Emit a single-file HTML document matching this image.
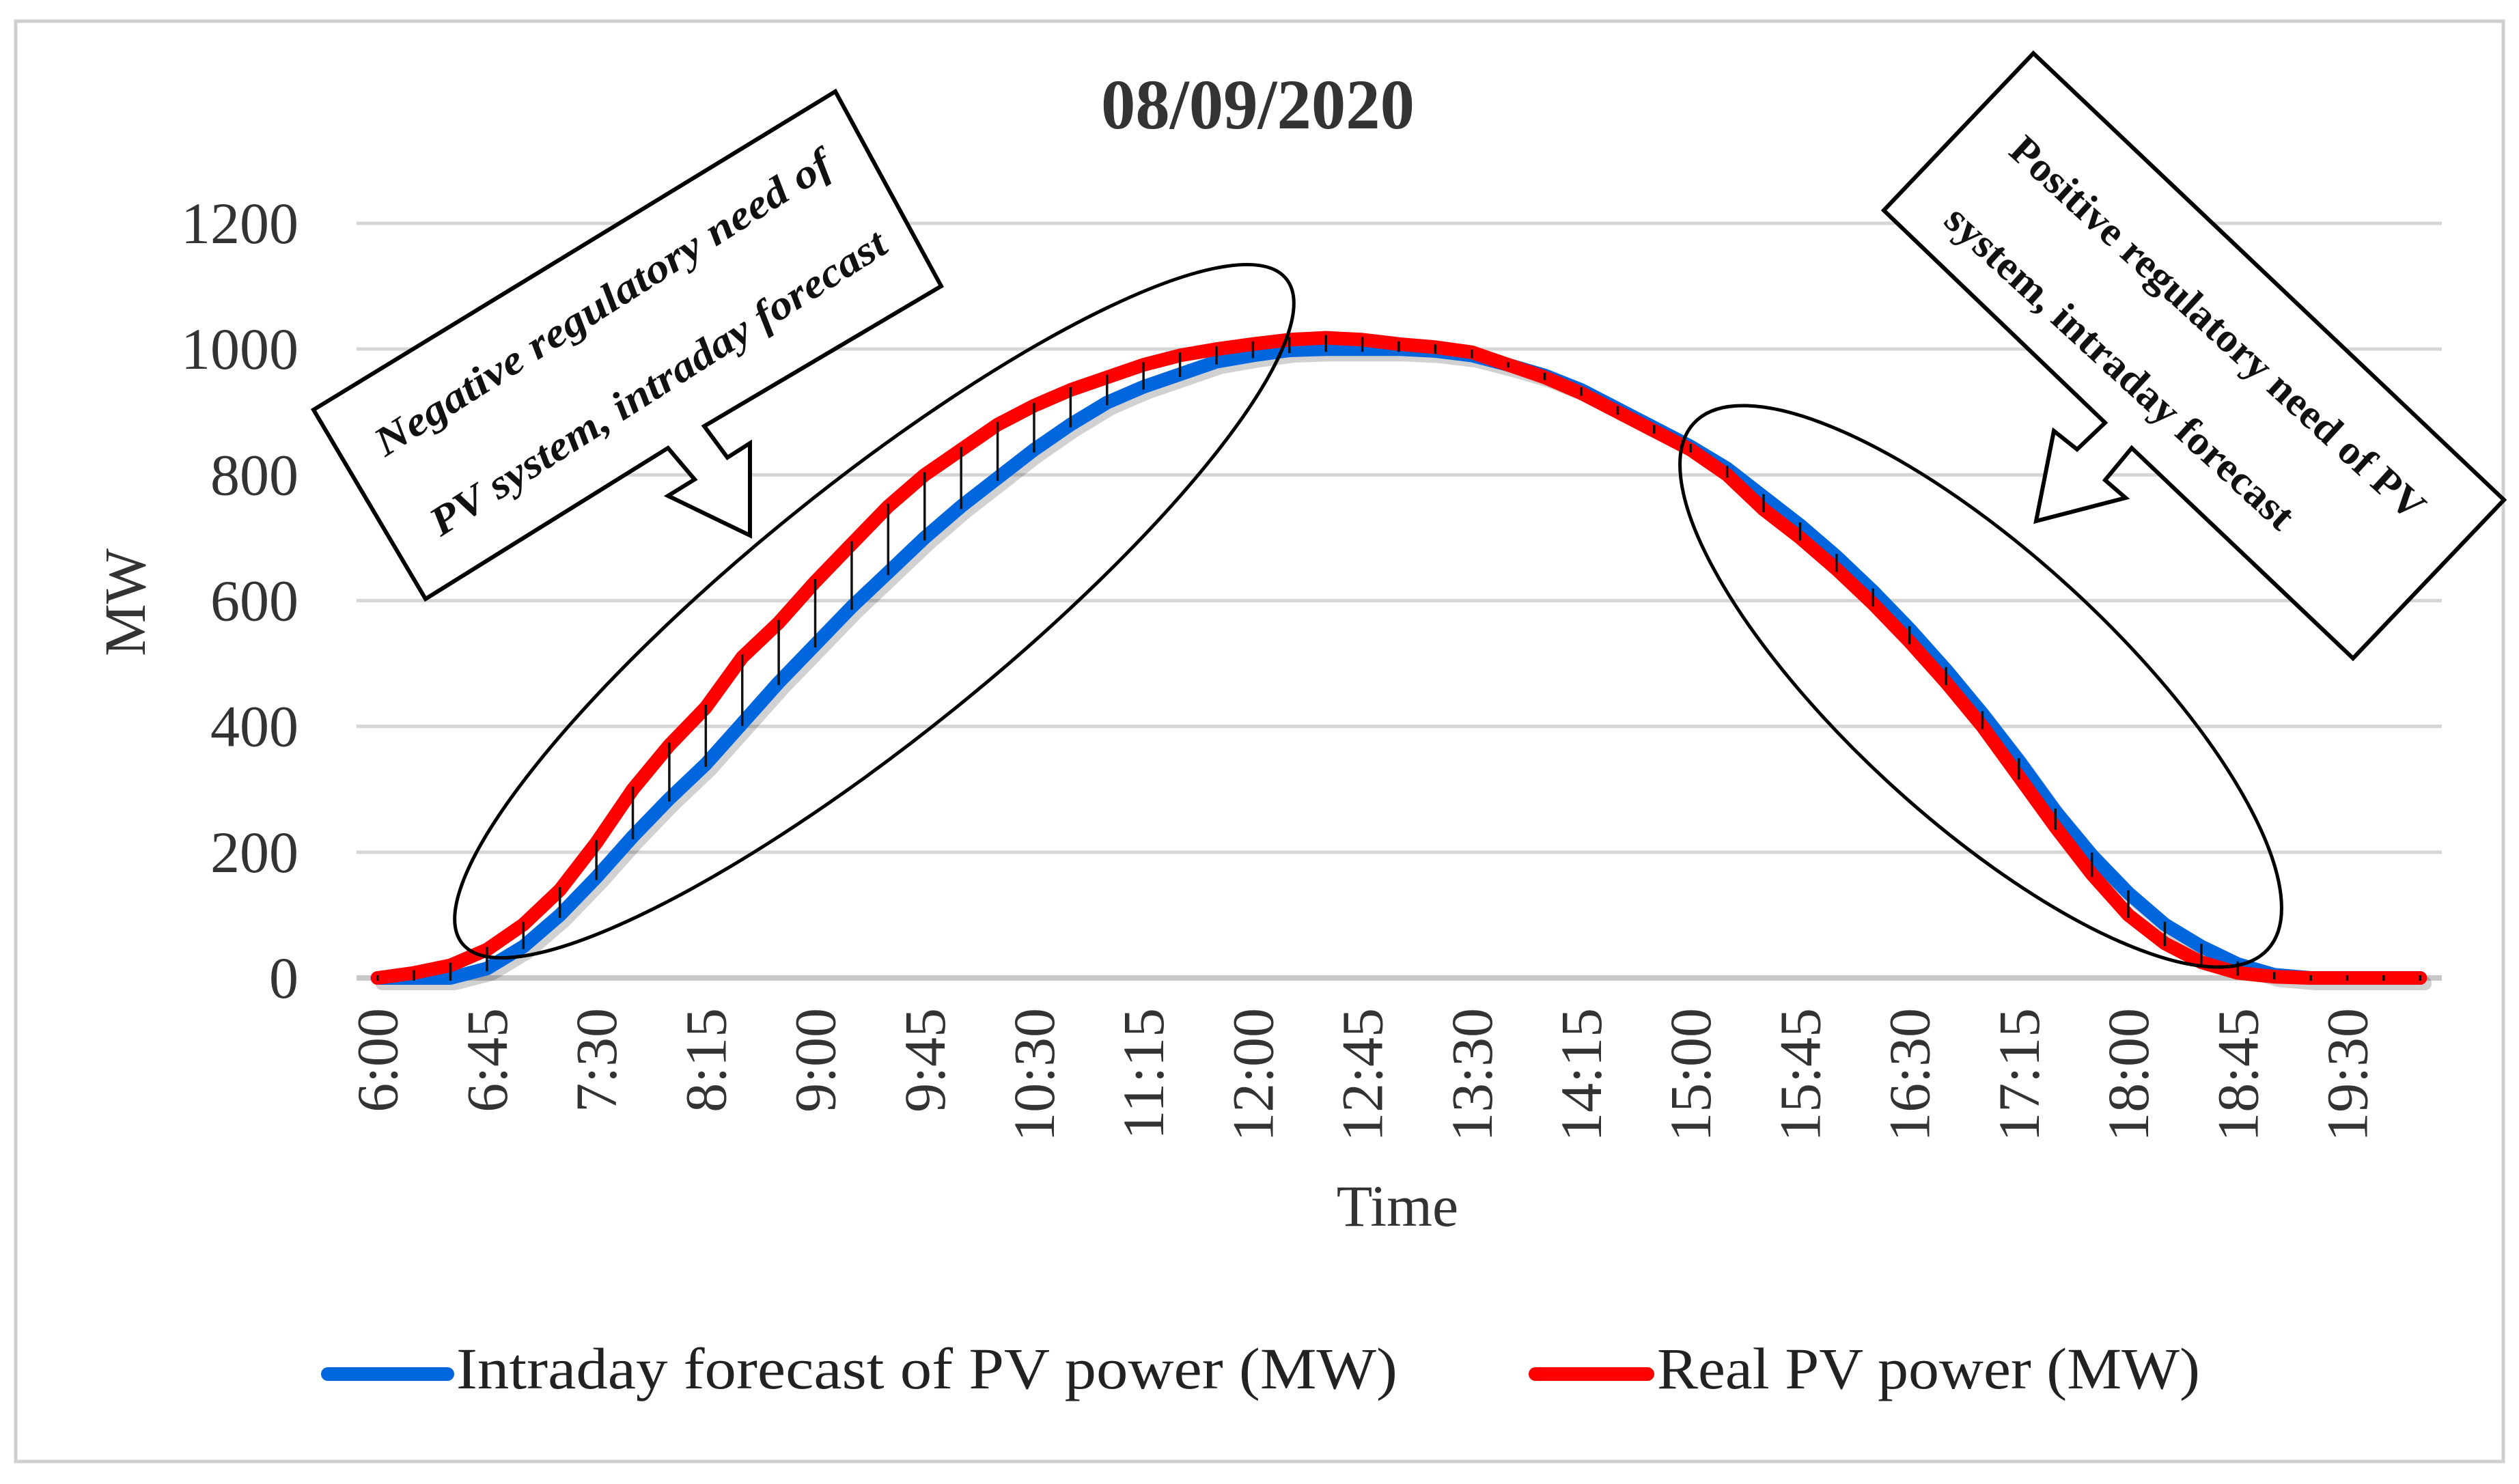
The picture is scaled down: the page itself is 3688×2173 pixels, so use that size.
<!DOCTYPE html>
<html><head><meta charset="utf-8"><style>
html,body{margin:0;padding:0;background:#fff}
svg{display:block;font-family:"Liberation Serif",serif}
</style></head><body>
<svg id="chart" width="3688" height="2173" viewBox="0 0 3688 2173" xmlns="http://www.w3.org/2000/svg">
<rect x="23" y="31" width="3642" height="2109" fill="#fff" stroke="#d0d0d0" stroke-width="5"/>
<text x="1612" y="188" font-size="104" font-weight="bold" fill="#333" textLength="459" lengthAdjust="spacingAndGlyphs">08/09/2020</text>
<g id="grid"></g>
<g id="yticks"></g>
<g id="xticks"></g>
<g id="series"></g>
<text transform="translate(212,882) rotate(-90)" text-anchor="middle" font-size="86" fill="#333">MW</text>
<text x="2046" y="1795" text-anchor="middle" font-size="86" fill="#333">Time</text>
<g>
<line x1="480" y1="2012" x2="655" y2="2012" stroke="#0066dd" stroke-width="20" stroke-linecap="round"/>
<text x="668" y="2033" font-size="86" fill="#222" textLength="1378" lengthAdjust="spacingAndGlyphs">Intraday forecast of PV power  (MW)</text>
<line x1="2248" y1="2012" x2="2412" y2="2012" stroke="#ff0000" stroke-width="20" stroke-linecap="round"/>
<text x="2426" y="2033" font-size="86" fill="#222" textLength="795" lengthAdjust="spacingAndGlyphs">Real PV power (MW)</text>
</g>
<g>
<ellipse cx="1280" cy="895" rx="775" ry="185" transform="rotate(-38.9 1280 895)" fill="none" stroke="#000" stroke-width="5"/>
<polygon points="459,600 1223,134 1378,419 1031,624 1065,670 1098,649 1098,784 978,726 1017,702 978,656 623,877" fill="#fff" stroke="#000" stroke-width="6"/>
<text transform="translate(893,460) rotate(-32.5)" text-anchor="middle" font-size="60" font-weight="bold" font-style="italic" fill="#111" textLength="780" lengthAdjust="spacingAndGlyphs">Negative regulatory need of</text>
<text transform="translate(974,577) rotate(-32.5)" text-anchor="middle" font-size="60" font-weight="bold" font-style="italic" fill="#111" textLength="780" lengthAdjust="spacingAndGlyphs">PV system, intraday forecast</text>
</g>
<g>
<ellipse cx="2900" cy="1005" rx="570" ry="195" transform="rotate(42.5 2900 1005)" fill="none" stroke="#000" stroke-width="5"/>
<polygon points="2977,78 3666,732 3445,964 3121,656 3082,703 3112,729 2981,763 3007,631 3041,658 3082,619 2758,308" fill="#fff" stroke="#000" stroke-width="6"/>
<text transform="translate(3247,480) rotate(42.5)" text-anchor="middle" dominant-baseline="central" font-size="60" font-weight="bold" fill="#111" textLength="800" lengthAdjust="spacingAndGlyphs">Positive regulatory need of PV</text>
<text transform="translate(3104,538) rotate(42.5)" text-anchor="middle" dominant-baseline="central" font-size="60" font-weight="bold" fill="#111" textLength="670" lengthAdjust="spacingAndGlyphs">system, intraday forecast</text>
</g>
</svg>
<script>
const categories = ["6:00","6:15","6:30","6:45","7:00","7:15","7:30","7:45","8:00","8:15","8:30","8:45","9:00","9:15","9:30","9:45","10:00","10:15","10:30","10:45","11:00","11:15","11:30","11:45","12:00","12:15","12:30","12:45","13:00","13:15","13:30","13:45","14:00","14:15","14:30","14:45","15:00","15:15","15:30","15:45","16:00","16:15","16:30","16:45","17:00","17:15","17:30","17:45","18:00","18:15","18:30","18:45","19:00","19:15","19:30","19:45","20:00"];
const forecastMW = [0,0,0,15,50,100,160,225,285,340,405,470,530,590,645,700,750,795,840,880,915,940,960,980,990,998,1000,1000,1000,997,990,975,958,935,905,875,845,810,765,720,670,615,555,490,420,345,265,195,135,85,50,22,5,0,0,0,0];
const realMW = [0,8,20,45,85,140,215,300,370,430,510,565,630,690,750,800,840,880,910,935,955,975,990,1000,1008,1015,1018,1015,1008,1003,995,975,955,930,900,870,840,800,745,700,650,595,535,470,400,320,240,165,100,55,25,8,2,0,0,0,0];
const yTicks = [0,200,400,600,800,1000,1200];
const xLabelEvery = 3;

const NS = "http://www.w3.org/2000/svg";
const plotL = 526, plotR = 3570, y0px = 1432, y1200px = 327;
const band = (plotR - plotL) / categories.length;
function xPos(i){ return plotL + band * (i + 0.5); }
function yPos(v){ return y0px - (v / 1200) * (y0px - y1200px); }
function mk(tag, attrs, parent){ const e = document.createElementNS(NS, tag); for (const k in attrs) e.setAttribute(k, attrs[k]); parent.appendChild(e); return e; }

const grid = document.getElementById('grid');
const yt = document.getElementById('yticks');
yTicks.forEach(v => {
  const l = mk('line', {x1: plotL - 4, x2: plotR + 5, y1: yPos(v), y2: yPos(v), stroke: v === 0 ? '#c8c8c8' : '#d6d6d6', 'stroke-width': v === 0 ? 8 : 5}, grid);
  
  
  const t = mk('text', {x: 437, y: yPos(v) + 29, 'text-anchor': 'end', 'font-size': 86, fill: '#333'}, yt);
  t.textContent = v;
  
  
});

const xt = document.getElementById('xticks');
categories.forEach((c, i) => {
  if (i % xLabelEvery !== 0) return;
  const x = xPos(i);
  const t = mk('text', {transform: 'translate(' + (x + 29) + ',1476) rotate(-90)', 'text-anchor': 'end', 'font-size': 86, fill: '#333'}, xt);
  t.textContent = c;
  
  
});

const s = document.getElementById('series');
function pts(arr){ return arr.map((v, i) => xPos(i).toFixed(1) + ',' + yPos(v).toFixed(1)).join(' '); }
const shadow = mk('polyline', {points: pts(forecastMW), fill: 'none', stroke: 'rgba(0,0,0,0.18)', 'stroke-width': 20, 'stroke-linejoin': 'round', 'stroke-linecap': 'round', transform: 'translate(7,8)'}, s);


const blue = mk('polyline', {points: pts(forecastMW), fill: 'none', stroke: '#0066dd', 'stroke-width': 20, 'stroke-linejoin': 'round', 'stroke-linecap': 'round'}, s);


const red = mk('polyline', {points: pts(realMW), fill: 'none', stroke: '#ff0000', 'stroke-width': 20, 'stroke-linejoin': 'round', 'stroke-linecap': 'round'}, s);


categories.forEach((c, i) => {
  const hi = Math.max(forecastMW[i], realMW[i]), lo = Math.min(forecastMW[i], realMW[i]);
  const l = mk('line', {x1: xPos(i), x2: xPos(i), y1: yPos(hi) - 4, y2: yPos(lo) + 4, stroke: '#111', 'stroke-width': 3.5}, s);
  
  
});
</script>
</body></html>
